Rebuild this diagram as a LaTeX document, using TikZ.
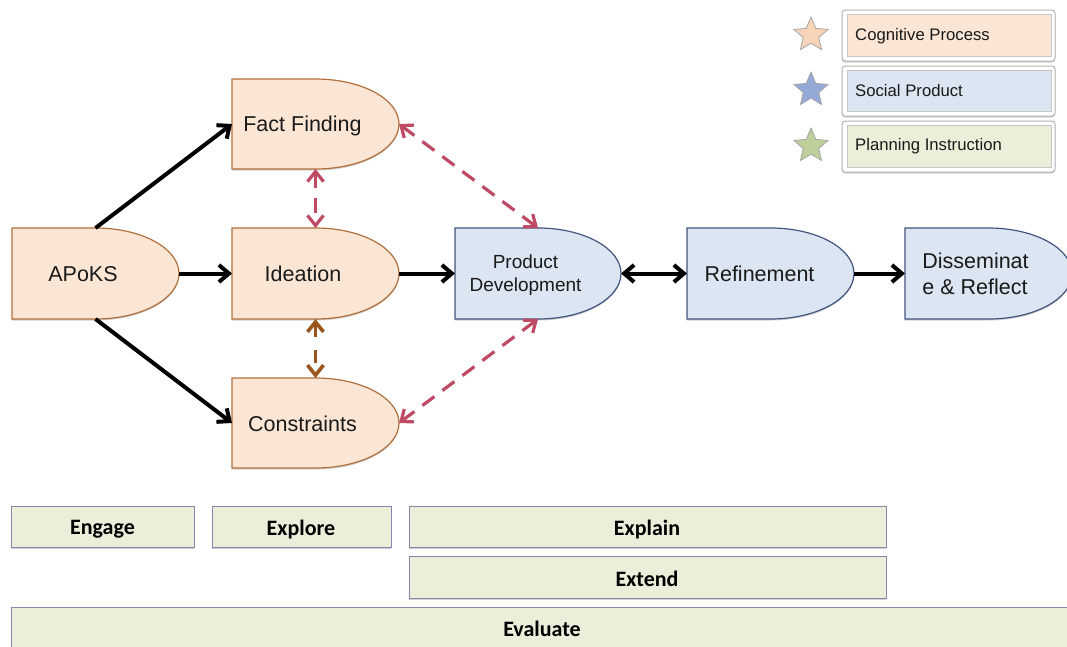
\documentclass[tikz,border=0pt]{standalone}
\usepackage{fontspec}
\setmainfont{Liberation Sans}
\newfontfamily\barfont{Carlito}
\usetikzlibrary{arrows.meta,shapes.geometric,shadows}
\definecolor{orfill}{HTML}{FBE6D6}
\definecolor{ordraw}{HTML}{B0703C}
\definecolor{blfill}{HTML}{DCE6F2}
\definecolor{bldraw}{HTML}{44557F}
\definecolor{grfill}{HTML}{EAEFDA}
\definecolor{grdraw}{HTML}{8A85AE}
\definecolor{redarrow}{HTML}{BE4A63}
\definecolor{brownarrow}{HTML}{9A551C}
\definecolor{inktext}{HTML}{1A1A1A}
\definecolor{starblue}{HTML}{94A9D6}
\definecolor{stargreen}{HTML}{BFCF9A}
\definecolor{starorange}{HTML}{F8D5B8}
\tikzset{
  softshadow/.style={drop shadow={shadow xshift=0pt,shadow yshift=-1.5pt,opacity=.3,fill=black!60}},
  cogshape/.style={fill=orfill,draw=ordraw,line width=1.2pt,softshadow},
  socshape/.style={fill=blfill,draw=bldraw,line width=1.2pt,softshadow},
  anchorbox/.style={rectangle,inner sep=0pt,outer sep=0pt},
  shapetext/.style={font=\fontsize{21.5}{26}\selectfont,text=inktext,align=center,inner sep=0pt},
  legendtext/.style={font=\fontsize{16.7}{20}\selectfont,text=inktext,anchor=west,inner sep=0pt},
  flow/.style={-{Straight Barb[length=10pt,width=17pt]},line width=4pt,black},
  flowboth/.style={{Straight Barb[length=10pt,width=17pt]}-{Straight Barb[length=10pt,width=17pt]},line width=4pt,black},
  reddash/.style={{Straight Barb[length=10pt,width=16pt]}-{Straight Barb[length=10pt,width=16pt]},line width=3.2pt,redarrow,dash pattern=on 15pt off 10pt},
  brownlink/.style={{Straight Barb[length=10pt,width=16pt]}-{Straight Barb[length=10pt,width=16pt]},line width=3.6pt,brownarrow,dash pattern=on 13pt off 13pt},
  barbox/.style={rectangle,fill=grfill,draw=grdraw,line width=1pt,inner sep=0pt,outer sep=0pt,softshadow},
  bartext/.style={font=\barfont\bfseries\fontsize{22}{26}\selectfont,text=black,inner sep=0pt},
  legendouter/.style={rectangle,rounded corners=3pt,fill=white,draw=black!30,line width=1pt,inner sep=0pt,outer sep=0pt,softshadow},
  legendinner/.style={rectangle,draw=black!22,line width=.6pt},
  legendstar/.style={star,star points=5,star point ratio=2.2,minimum size=36pt,inner sep=0pt,draw=black!35,line width=.8pt},
}
% name, left, top, width, height, style
\newcommand{\delayshape}[6]{%
  \pgfmathsetmacro{\dxl}{#2}\pgfmathsetmacro{\dyt}{#3}%
  \pgfmathsetmacro{\dxm}{#2+#4/2}\pgfmathsetmacro{\dxr}{#2+#4}%
  \pgfmathsetmacro{\dyb}{#3+#5}\pgfmathsetmacro{\dym}{#3+#5/2}%
  \pgfmathsetmacro{\dkx}{#4/2*0.5523}\pgfmathsetmacro{\dky}{#5/2*0.5523}%
  \path[#6] (\dxl,\dyt) -- (\dxm,\dyt)
    .. controls ({\dxm+\dkx},\dyt) and (\dxr,{\dym-\dky}) .. (\dxr,\dym)
    .. controls (\dxr,{\dym+\dky}) and ({\dxm+\dkx},\dyb) .. (\dxm,\dyb)
    -- (\dxl,\dyb) -- cycle;
  \node[anchorbox,minimum width=#4pt,minimum height=#5pt] (#1) at (\dxm,\dym) {};
}
\newcommand{\barrect}[6]{%
  \pgfmathsetmacro{\bwid}{#4-#2}\pgfmathsetmacro{\bhei}{#5-#3}%
  \pgfmathsetmacro{\bcx}{(#2+#4)/2}\pgfmathsetmacro{\bcy}{(#3+#5)/2}%
  \node[#6,minimum width=\bwid pt,minimum height=\bhei pt] (#1) at (\bcx,\bcy) {};
}
\begin{document}
\begin{tikzpicture}[x=1pt,y=-1pt]
\clip (0,0) rectangle (1067,646);
\fill[white] (0,0) rectangle (1067,646);

% process shapes
\delayshape{apoks}{12}{228}{167}{91}{cogshape}
\delayshape{fact}{232}{79}{167}{90}{cogshape}
\delayshape{idea}{232}{228}{167}{91}{cogshape}
\delayshape{cons}{232}{378}{167}{90}{cogshape}
\delayshape{prod}{455}{228}{166}{91}{socshape}
\delayshape{refi}{687}{228}{167}{91}{socshape}
\delayshape{diss}{905}{228}{167}{91}{socshape}

\node[shapetext] (apoksT) at (83,274) {APoKS};
\node[shapetext] (factT) at (302.5,126) {Fact Finding};
\node[shapetext] (ideaT) at (303,274) {Ideation};
\node[shapetext] (consT) at (302.5,424) {Constraints};
\node[shapetext,font=\fontsize{19}{22.5}\selectfont] (prodT) at (525.5,275) {Product\\Development};
\node[shapetext] (refiT) at (759.5,274) {Refinement};
\node[shapetext,align=left] (dissT) at (975.5,274) {Disseminat\\e \& Reflect};

% connectors
\draw[flow] (apoks.north) -- (fact.west);
\draw[flow] (apoks.east) -- (idea.west);
\draw[flow] (apoks.south) -- (cons.west);
\draw[flow] (idea.east) -- (prod.west);
\draw[flowboth] (prod.east) -- (refi.west);
\draw[flow] (refi.east) -- (diss.west);
\draw[reddash] (fact.south) -- (idea.north);
\draw[reddash] (fact.east) -- (prod.north);
\draw[reddash] (cons.east) -- (prod.south);
\draw[brownlink] (idea.south) -- (cons.north);

% legend
\barrect{legA}{842}{10}{1055}{61}{legendouter}
\barrect{legB}{842}{66}{1055}{116}{legendouter}
\barrect{legC}{842}{121}{1055}{172}{legendouter}
\barrect{legAi}{847}{14}{1051}{56}{legendinner,fill=orfill}
\barrect{legBi}{847}{70}{1051}{111}{legendinner,fill=blfill}
\barrect{legCi}{847}{125}{1051}{167}{legendinner,fill=grfill}
\node[legendtext] (legAT) at (855,36) {Cognitive Process};
\node[legendtext] (legBT) at (855,91) {Social Product};
\node[legendtext] (legCT) at (855,146) {Planning Instruction};
\node[legendstar,fill=starorange] (starA) at (811,35) {};
\node[legendstar,fill=starblue] (starB) at (811,90) {};
\node[legendstar,fill=stargreen] (starC) at (811,146) {};

% 5E bars
\barrect{engage}{11}{506}{194}{547}{barbox}
\barrect{explore}{212}{506}{391}{547}{barbox}
\barrect{explain}{409}{506}{886}{547}{barbox}
\barrect{extend}{409}{556}{886}{598}{barbox}
\barrect{evaluate}{11}{607}{1075}{652}{barbox}
\node[bartext] (engageT) at (102.5,529.5) {Engage};
\node[bartext] (exploreT) at (301,529.5) {Explore};
\node[bartext] (explainT) at (647,529.5) {Explain};
\node[bartext] (extendT) at (647,579) {Extend};
\node[bartext] (evaluateT) at (542,629) {Evaluate};
\end{tikzpicture}
\end{document}
